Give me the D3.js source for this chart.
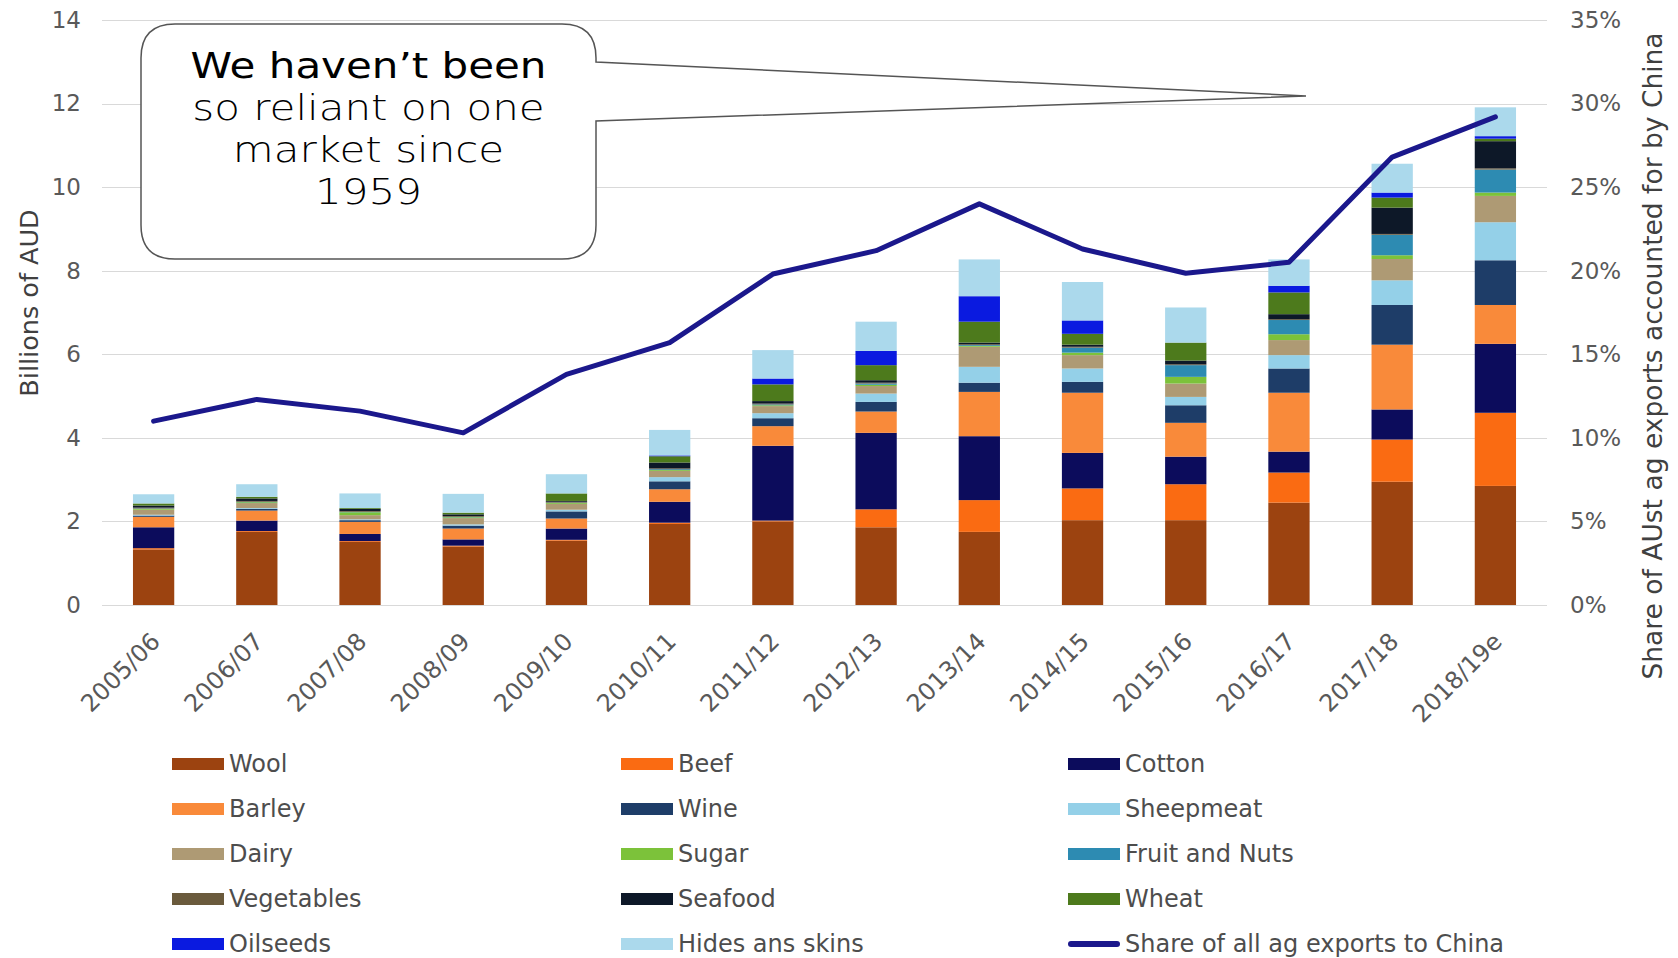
<!DOCTYPE html>
<html>
<head>
<meta charset="utf-8">
<script src="https://cdn.jsdelivr.net/npm/d3@7"></script>
<style>
  body { margin: 0; background: #fff; }
  svg { display: block; font-family: "DejaVu Sans", Verdana, sans-serif; }
</style>
</head>
<body>
<div id="chart"></div>
<script>
// years on the x axis
const years = ['2005/06', '2006/07', '2007/08', '2008/09', '2009/10', '2010/11', '2011/12',
               '2012/13', '2013/14', '2014/15', '2015/16', '2016/17', '2017/18', '2018/19e'];

// exports to China, billions of AUD (stacked bottom to top)
const wool       = [1.33, 1.75, 1.51, 1.40, 1.54, 1.94, 2.00, 1.86, 1.75, 2.03, 2.03, 2.45, 2.95, 2.85];
const beef       = [0.03, 0.02, 0.02, 0.02, 0.02, 0.03, 0.02, 0.43, 0.76, 0.76, 0.86, 0.72, 1.01, 1.75];
const cotton     = [0.50, 0.25, 0.17, 0.15, 0.27, 0.50, 1.79, 1.83, 1.53, 0.85, 0.66, 0.50, 0.72, 1.65];
const barley     = [0.25, 0.24, 0.29, 0.26, 0.24, 0.30, 0.47, 0.51, 1.06, 1.44, 0.81, 1.41, 1.55, 0.93];
const wine       = [0.03, 0.04, 0.04, 0.07, 0.17, 0.19, 0.19, 0.23, 0.22, 0.26, 0.42, 0.58, 0.95, 1.07];
const sheepmeat  = [0.02, 0.02, 0.02, 0.03, 0.04, 0.10, 0.12, 0.20, 0.38, 0.32, 0.20, 0.32, 0.59, 0.91];
const dairy      = [0.12, 0.12, 0.10, 0.15, 0.14, 0.15, 0.17, 0.18, 0.48, 0.32, 0.32, 0.36, 0.51, 0.63];
const sugar      = [0.02, 0.02, 0.07, 0.02, 0.02, 0.02, 0.02, 0.03, 0.02, 0.06, 0.16, 0.14, 0.09, 0.08];
const fruitNuts  = [0.01, 0.01, 0.01, 0.01, 0.01, 0.02, 0.02, 0.03, 0.02, 0.12, 0.28, 0.34, 0.49, 0.55];
const vegetables = [0.02, 0.02, 0.02, 0.02, 0.02, 0.02, 0.02, 0.02, 0.02, 0.02, 0.02, 0.02, 0.02, 0.03];
const seafood    = [0.05, 0.06, 0.05, 0.04, 0.02, 0.14, 0.06, 0.06, 0.04, 0.05, 0.09, 0.12, 0.63, 0.65];
const wheat      = [0.05, 0.04, 0.02, 0.04, 0.18, 0.15, 0.40, 0.36, 0.50, 0.26, 0.43, 0.52, 0.24, 0.06];
const oilseeds   = [0.00, 0.00, 0.00, 0.00, 0.00, 0.02, 0.14, 0.34, 0.61, 0.32, 0.00, 0.16, 0.12, 0.06];
const hides      = [0.22, 0.30, 0.35, 0.45, 0.46, 0.61, 0.68, 0.70, 0.88, 0.92, 0.84, 0.63, 0.69, 0.69];

// share of all Australian ag exports going to China (%)
const chinaShare = [11.0, 12.3, 11.6, 10.3, 13.8, 15.7, 19.8, 21.2, 24.0, 21.3, 19.85, 20.5, 26.8, 29.2];

const seriesNames = ['Wool', 'Beef', 'Cotton', 'Barley', 'Wine', 'Sheepmeat', 'Dairy', 'Sugar',
                     'Fruit and Nuts', 'Vegetables', 'Seafood', 'Wheat', 'Oilseeds', 'Hides ans skins'];
const seriesValues = [wool, beef, cotton, barley, wine, sheepmeat, dairy, sugar,
                      fruitNuts, vegetables, seafood, wheat, oilseeds, hides];
const seriesColors = ['#9c4310', '#fa6b12', '#0c0c5c', '#f98a3a', '#1e3d68', '#94d0e8', '#ae9a74',
                      '#7cc23a', '#2d8bb2', '#6a5a3c', '#0d1828', '#4d7a1c', '#0a1ae0', '#abd9ec'];
const lineName = 'Share of all ag exports to China';

const leftTicks = [0, 2, 4, 6, 8, 10, 12, 14];
const rightTicks = [0, 5, 10, 15, 20, 25, 30, 35];

const width = 1678, height = 958;
const plot = { left: 102, right: 1547, top: 20, bottom: 605 };

const svg = d3.select('#chart').append('svg')
    .attr('width', width)
    .attr('height', height);

const x = d3.scaleBand()
    .domain(years)
    .range([plot.left, plot.right])
    .paddingInner(0.6)
    .paddingOuter(0.3);

const y = d3.scaleLinear().domain([0, 14]).range([plot.bottom, plot.top]);
const y2 = d3.scaleLinear().domain([0, 35]).range([plot.bottom, plot.top]);

// gridlines
svg.append('g')
    .selectAll('line')
    .data(leftTicks)
    .join('line')
    .attr('x1', plot.left)
    .attr('x2', plot.right)
    .attr('y1', d => Math.round(y(d)) + 0.5)
    .attr('y2', d => Math.round(y(d)) + 0.5)
    .attr('stroke', '#d9d9d9')
    .attr('stroke-width', 1.2);

// left axis
const leftAxis = svg.append('g')
    .attr('transform', `translate(${plot.left - 21},0)`)
    .call(d3.axisLeft(y).tickValues(leftTicks).tickSize(0).tickPadding(0));
leftAxis.select('.domain').remove();
leftAxis.selectAll('text')
    .attr('font-size', 23)
    .attr('fill', '#595959')
    .attr('font-family', '"DejaVu Sans", Verdana, sans-serif');

// right axis
const rightAxis = svg.append('g')
    .attr('transform', `translate(${plot.right + 23},0)`)
    .call(d3.axisRight(y2).tickValues(rightTicks).tickFormat(d => d + '%').tickSize(0).tickPadding(0));
rightAxis.select('.domain').remove();
rightAxis.selectAll('text')
    .attr('font-size', 23)
    .attr('fill', '#595959')
    .attr('font-family', '"DejaVu Sans", Verdana, sans-serif');

// x axis labels, rotated
const xAxis = svg.append('g')
    .attr('transform', `translate(0,${plot.bottom})`)
    .call(d3.axisBottom(x).tickSize(0).tickPadding(0));
xAxis.select('.domain').remove();
xAxis.selectAll('text')
    .attr('font-size', 24)
    .attr('fill', '#595959')
    .attr('font-family', '"DejaVu Sans", Verdana, sans-serif')
    .attr('text-anchor', 'end')
    .attr('dy', '0.35em')
    .attr('transform', 'translate(2,32) rotate(-45)');

// axis titles
svg.append('text')
    .attr('transform', 'translate(38,303) rotate(-90)')
    .attr('text-anchor', 'middle')
    .attr('font-size', 25.5)
    .attr('fill', '#404040')
    .text('Billions of AUD');

svg.append('text')
    .attr('transform', 'translate(1662,356) rotate(-90)')
    .attr('text-anchor', 'middle')
    .attr('font-size', 26.5)
    .attr('fill', '#404040')
    .text('Share of AUst ag exports accounted for by China');

// stacked bars
const table = years.map((yr, i) => {
    const row = { year: yr };
    seriesNames.forEach((name, k) => { row[name] = seriesValues[k][i]; });
    return row;
});
const stack = d3.stack().keys(seriesNames)(table);

svg.append('g')
    .selectAll('g')
    .data(stack)
    .join('g')
    .attr('fill', (d, i) => seriesColors[i])
    .selectAll('rect')
    .data(d => d)
    .join('rect')
    .attr('x', d => x(d.data.year))
    .attr('width', x.bandwidth())
    .attr('y', d => y(d[1]))
    .attr('height', d => Math.max(0, y(d[0]) - y(d[1])));

// share line
const line = d3.line()
    .x((d, i) => x(years[i]) + x.bandwidth() / 2)
    .y(d => y2(d));

svg.append('path')
    .datum(chinaShare)
    .attr('d', line)
    .attr('fill', 'none')
    .attr('stroke', '#1b188c')
    .attr('stroke-width', 5)
    .attr('stroke-linejoin', 'round')
    .attr('stroke-linecap', 'round');

// legend
const legendCols = [172, 621, 1068];
const legendRowY = d3.scalePoint().domain(d3.range(5)).range([764, 944]);
const legendItems = seriesNames.map((n, i) => ({ name: n, color: seriesColors[i], kind: 'rect' }))
    .concat([{ name: lineName, color: '#1b188c', kind: 'line' }]);

const legend = svg.append('g')
    .selectAll('g')
    .data(legendItems)
    .join('g')
    .attr('transform', (d, i) => `translate(${legendCols[i % 3]},${legendRowY(Math.floor(i / 3))})`);

legend.filter(d => d.kind === 'rect').append('rect')
    .attr('x', 0)
    .attr('y', -6)
    .attr('width', 52)
    .attr('height', 12)
    .attr('fill', d => d.color);

legend.filter(d => d.kind === 'line').append('line')
    .attr('x1', 3)
    .attr('x2', 49)
    .attr('stroke', d => d.color)
    .attr('stroke-width', 6)
    .attr('stroke-linecap', 'round');

legend.append('text')
    .attr('x', 57)
    .attr('dy', '0.35em')
    .attr('font-size', 24)
    .attr('fill', '#4d4d4d')
    .text(d => d.name);

// callout bubble
const bx0 = 141, bx1 = 596, by0 = 24, by1 = 259, r = 34;
const tip = [1306, 96];
const callout = svg.append('g');
callout.append('path')
    .attr('d', `M${bx0 + r},${by0} H${bx1 - r} Q${bx1},${by0} ${bx1},${by0 + r} V62 L${tip[0]},${tip[1]} L${bx1},121 V${by1 - r} Q${bx1},${by1} ${bx1 - r},${by1} H${bx0 + r} Q${bx0},${by1} ${bx0},${by1 - r} V${by0 + r} Q${bx0},${by0} ${bx0 + r},${by0} Z`)
    .attr('fill', '#fff')
    .attr('stroke', '#555')
    .attr('stroke-width', 1.5);

// the bubble's text is wide and tightly spaced, so stretch a smaller font sideways
const calloutLines = [
    { t: 'We haven\u2019t been', w: 500, y: 78 },
    { t: 'so reliant on one', w: 200, y: 120 },
    { t: 'market since', w: 200, y: 162 },
    { t: '1959', w: 200, y: 204 }
];
callout.selectAll('text')
    .data(calloutLines)
    .join('text')
    .attr('transform', d => `translate(${(bx0 + bx1) / 2},${d.y}) scale(1.2,1)`)
    .attr('text-anchor', 'middle')
    .attr('font-size', 35)
    .attr('font-weight', d => d.w)
    .attr('fill', '#000')
    .text(d => d.t);
</script>
</body>
</html>
